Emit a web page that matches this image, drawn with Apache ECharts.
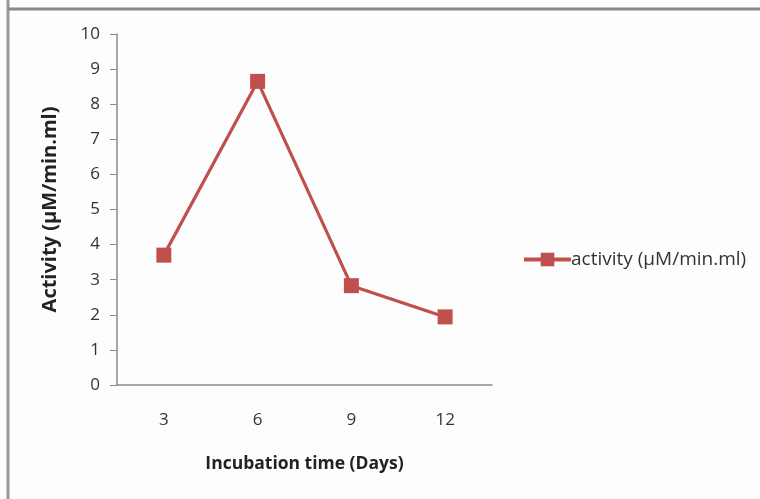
<!DOCTYPE html>
<html>
<head>
<meta charset="utf-8">
<script src="https://cdn.jsdelivr.net/npm/echarts@6/dist/echarts.min.js"></script>
<style>
html,body{margin:0;padding:0;background:#fff;}
#c{width:760px;height:499px;}
</style>
</head>
<body>
<div id="c"></div>
<script>
var categories = ['3', '6', '9', '12'];
var activity = [3.7, 8.65, 2.83, 1.94];
var seriesName = 'activity (µM/min.ml)';
var xTitle = 'Incubation time (Days)';
var yTitle = 'Activity (µM/min.ml)';

var chart = echarts.init(document.getElementById('c'), null, {renderer: 'canvas'});
var font = '"Open Sans", Lato, sans-serif';
chart.setOption({
  animation: false,
  backgroundColor: '#fdfdfd',
  graphic: [
    {type: 'line', shape: {x1: 8, y1: 0, x2: 8, y2: 499}, style: {stroke: '#999', lineWidth: 3}},
    {type: 'line', shape: {x1: 8, y1: 9, x2: 760, y2: 9}, style: {stroke: '#888', lineWidth: 3}}
  ],
  grid: {left: 117, right: 268, top: 34, bottom: 114},
  legend: {
    left: 517, top: 245,
    itemWidth: 47, itemHeight: 17, itemGap: 4,
    lineStyle: {width: 4},
    textStyle: {fontFamily: font, fontSize: 19, color: '#333', padding: [0,0,0,-5]},
    data: [seriesName]
  },
  xAxis: {
    type: 'category',
    data: categories,
    boundaryGap: true,
    axisLine: {lineStyle: {color: '#8a8a8a', width: 1.5}},
    axisTick: {show: false},
    axisLabel: {margin: 27, fontFamily: font, fontSize: 17, color: '#333'},
    name: xTitle,
    nameLocation: 'middle',
    nameGap: 70,
    nameTextStyle: {fontFamily: font, fontSize: 17.5, fontWeight: 'bold', color: '#222'}
  },
  yAxis: {
    type: 'value',
    min: 0, max: 10, interval: 1,
    axisLine: {show: true, lineStyle: {color: '#8a8a8a', width: 1.5}},
    axisTick: {show: true, length: 7, lineStyle: {color: '#8a8a8a'}},
    splitLine: {show: false},
    axisLabel: {margin: 17, fontFamily: font, fontSize: 17, color: '#333'},
    name: yTitle,
    nameLocation: 'middle',
    nameGap: 57,
    nameTextStyle: {fontFamily: font, fontSize: 20, fontWeight: 'bold', color: '#222'}
  },
  series: [{
    name: seriesName,
    type: 'line',
    data: activity,
    symbol: 'rect',
    symbolSize: 15,
    lineStyle: {color: '#c0504d', width: 3.2},
    itemStyle: {color: '#c0504d'}
  }]
});
</script>
</body>
</html>
